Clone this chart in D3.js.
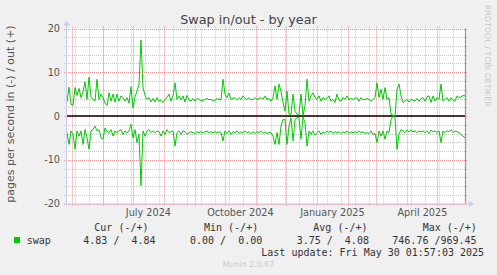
<!DOCTYPE html>
<html>
<head>
<meta charset="utf-8">
<script src="https://cdn.jsdelivr.net/npm/d3@7"></script>
<style>
    body { margin: 0; background: #f0f0f0; }
    svg { display: block; }
</style>
</head>
<body>
<div id="swap"></div>
<script>
// graph window: munin year view is the last 400 days
var graphEnd = "2025-05-30T01:57:03Z";
var graphDays = 400;

// one value every 2 days, starting here
var seriesStart = "2024-04-26T02:00:00Z";
var seriesStepDays = 2;

// pages out (+)
var swapOut = [
    3.2, 6.6, 2.7, 2.4, 6.5, 4.7, 6.3, 4.2, 5.5, 7.8,
    3.8, 8.9, 4.4, 3.8, 3.4, 8.4, 3.8, 5.0, 4.2, 3.0,
    2.4, 5.3, 3.4, 5.0, 3.2, 5.0, 3.4, 4.6, 4.2, 3.4,
    4.2, 2.9, 6.7, 1.9, 4.4, 5.7, 7.3, 17.4, 6.5, 4.7,
    3.8, 4.2, 3.2, 4.0, 3.2, 4.2, 3.4, 3.6, 3.1, 3.8,
    4.2, 5.0, 3.4, 4.6, 7.6, 3.8, 4.6, 3.7, 4.6, 3.2,
    4.7, 3.6, 3.4, 4.0, 3.4, 4.0, 3.8, 3.4, 3.6, 3.8,
    4.0, 3.7, 3.8, 3.4, 3.6, 4.0, 3.8, 3.7, 8.4, 5.0,
    4.2, 5.2, 3.8, 4.0, 4.2, 3.7, 4.2, 3.8, 4.6, 4.0,
    3.8, 4.2, 3.7, 3.8, 4.2, 3.8, 4.0, 4.2, 3.8, 4.6,
    3.8, 4.0, 3.4, 4.2, 6.9, 3.8, 7.3, 5.7, 3.1, 1.1,
    5.7, 0.4, 0.4, 5.0, 1.1, 0.4, 0.4, 5.0, 0.2, 2.3,
    8.4, 3.4, 4.6, 5.3, 4.2, 3.8, 4.6, 3.4, 4.2, 3.8,
    4.0, 4.6, 3.4, 3.8, 3.1, 5.0, 3.6, 3.4, 4.2, 3.8,
    4.6, 3.7, 4.0, 3.8, 4.0, 4.2, 3.4, 4.2, 3.7, 3.8,
    4.0, 3.8, 3.4, 3.8, 4.2, 7.6, 4.2, 6.1, 3.8, 6.5,
    3.8, 4.2, 0.4, 0.2, 0.0, 6.1, 7.3, 4.6, 3.1, 3.4,
    3.8, 3.2, 3.8, 3.6, 3.4, 4.0, 3.4, 4.0, 4.2, 3.4,
    4.4, 4.6, 3.1, 4.6, 3.4, 4.2, 3.8, 7.3, 3.4, 3.8,
    4.2, 3.4, 4.2, 3.6, 3.4, 4.6, 4.2, 4.4, 4.7, 4.6
];

// pages in (-)
var swapIn = [
    -3.8, -6.5, -3.4, -4.2, -7.6, -3.4, -4.6, -3.4, -6.5, -3.1,
    -5.0, -7.6, -3.4, -3.1, -2.3, -3.4, -3.1, -5.0, -5.3, -2.7,
    -3.6, -3.8, -3.1, -4.6, -3.4, -3.8, -3.4, -3.1, -4.2, -3.4,
    -3.8, -3.4, -1.9, -5.0, -3.1, -6.1, -4.2, -15.9, -3.4, -4.6,
    -3.4, -3.1, -3.8, -3.4, -3.8, -3.4, -3.6, -4.6, -3.4, -4.2,
    -3.1, -3.8, -3.6, -3.4, -6.9, -3.8, -3.4, -4.2, -3.4, -3.6,
    -4.2, -3.8, -3.6, -3.8, -4.0, -3.6, -3.8, -3.6, -3.8, -3.6,
    -3.4, -3.8, -3.6, -3.8, -3.6, -3.8, -3.6, -3.8, -5.7, -3.4,
    -4.0, -3.4, -4.2, -3.6, -3.8, -3.4, -4.0, -3.6, -3.8, -3.4,
    -3.8, -3.6, -4.0, -3.6, -4.0, -3.6, -3.8, -3.4, -4.0, -3.6,
    -4.0, -3.8, -3.8, -4.6, -6.5, -3.8, -6.5, -2.3, -0.8, -0.8,
    -6.5, -2.3, -0.4, -5.7, -0.8, -0.4, -0.4, -5.3, -0.2, -1.5,
    -6.9, -3.4, -4.2, -3.4, -4.4, -3.8, -3.4, -4.2, -3.6, -4.0,
    -3.4, -3.8, -3.4, -4.0, -3.6, -3.8, -3.6, -4.0, -3.6, -3.8,
    -3.4, -4.0, -3.6, -3.8, -3.6, -3.8, -3.4, -3.8, -3.6, -4.0,
    -3.8, -4.0, -3.4, -4.2, -4.0, -6.1, -3.4, -4.6, -3.4, -5.3,
    -3.4, -3.8, -0.8, 0.0, -0.4, -7.6, -4.2, -3.1, -3.4, -3.8,
    -3.2, -3.6, -3.2, -3.6, -3.4, -3.8, -3.4, -3.6, -3.4, -3.8,
    -3.4, -4.0, -3.2, -3.6, -3.4, -3.8, -3.4, -6.1, -3.4, -3.8,
    -3.4, -3.6, -3.1, -3.8, -3.4, -3.6, -3.8, -4.2, -4.6, -5.0
];

var yMajor = [-20, -10, 0, 10, 20];
var xLabels = ["July 2024", "October 2024", "January 2025", "April 2025"];
var xLabelDates = ["2024-07-16T12:00:00Z", "2024-10-16T12:00:00Z", "2025-01-16T12:00:00Z", "2025-04-16T12:00:00Z"];

var legendHeads = ["Cur (-/+)", "Min (-/+)", "Avg (-/+)", "Max (-/+)"];
var legendValues = ["4.83 /  4.84", "0.00 /  0.00", "3.75 /  4.08", "746.76 /969.45"];
var legendName = "swap";
var lastUpdate = "Last update: Fri May 30 01:57:03 2025";

var width = 497,
    height = 275,
    plot = { left: 66, right: 466, top: 28.5, bottom: 203.5 };

var end = new Date(graphEnd),
    start = d3.utcDay.offset(end, -graphDays);

var x = d3.scaleUtc()
    .domain([start, end])
    .range([plot.left, plot.right]);

var y = d3.scaleLinear()
    .domain([-20, 20])
    .range([plot.bottom, plot.top]);

var first = new Date(seriesStart);
var outData = swapOut.map(function(v, i) {
    return { date: d3.utcDay.offset(first, i * seriesStepDays), value: v };
});
var inData = swapIn.map(function(v, i) {
    return { date: d3.utcDay.offset(first, i * seriesStepDays), value: v };
});

var svg = d3.select("#swap")
    .append("svg")
    .attr("width", width)
    .attr("height", height)
    .style("font-family", "'DejaVu Sans', sans-serif");

svg.append("rect")
    .attr("width", width)
    .attr("height", height)
    .attr("fill", "#f0f0f0");

svg.append("rect")
    .attr("x", plot.left)
    .attr("y", plot.top)
    .attr("width", plot.right - plot.left)
    .attr("height", plot.bottom - plot.top)
    .attr("fill", "#ffffff");

// minor grid
var minorX = d3.utcDay.range(new Date("2024-05-04T00:00:00Z"), end, 14);
svg.append("g").selectAll("line")
    .data(minorX)
    .enter().append("line")
    .attr("x1", function(d) { return Math.round(x(d)) + 0.5; })
    .attr("x2", function(d) { return Math.round(x(d)) + 0.5; })
    .attr("y1", plot.top - 2)
    .attr("y2", plot.bottom + 2)
    .attr("stroke", "#c8c8c8")
    .attr("stroke-dasharray", "1,1");

var minorY = d3.range(-20, 21, 2).filter(function(v) { return v % 10 !== 0; });
svg.append("g").selectAll("line")
    .data(minorY)
    .enter().append("line")
    .attr("x1", plot.left - 2)
    .attr("x2", plot.right + 2)
    .attr("y1", function(d) { return Math.round(y(d)) + 0.5; })
    .attr("y2", function(d) { return Math.round(y(d)) + 0.5; })
    .attr("stroke", "#c8c8c8")
    .attr("stroke-dasharray", "1,1");

// major grid
var months = d3.utcMonth.range(start, end);
svg.append("g").selectAll("line")
    .data(months)
    .enter().append("line")
    .attr("x1", function(d) { return Math.round(x(d)) + 0.5; })
    .attr("x2", function(d) { return Math.round(x(d)) + 0.5; })
    .attr("y1", plot.top - 2)
    .attr("y2", plot.bottom + 2)
    .attr("stroke", "#f09090")
    .attr("stroke-dasharray", "1,1");

svg.append("g").selectAll("line")
    .data(yMajor)
    .enter().append("line")
    .attr("x1", plot.left - 2)
    .attr("x2", plot.right + 2)
    .attr("y1", function(d) { return Math.round(y(d)) + 0.5; })
    .attr("y2", function(d) { return Math.round(y(d)) + 0.5; })
    .attr("stroke", "#f09090")
    .attr("stroke-dasharray", "1,1");

// y tick labels
svg.append("g").selectAll("text")
    .data(yMajor)
    .enter().append("text")
    .attr("x", 60)
    .attr("y", function(d) { return y(d) + 3.5; })
    .attr("text-anchor", "end")
    .attr("font-size", "9.7px")
    .attr("fill", "#555")
    .text(function(d) { return d; });

// x labels
svg.append("g").selectAll("text")
    .data(xLabels)
    .enter().append("text")
    .attr("x", function(d, i) { return x(new Date(xLabelDates[i])); })
    .attr("y", 216)
    .attr("text-anchor", "middle")
    .attr("font-size", "9.7px")
    .attr("fill", "#555")
    .text(function(d) { return d; });

// zero line
svg.append("line")
    .attr("x1", plot.left)
    .attr("x2", plot.right)
    .attr("y1", y(0))
    .attr("y2", y(0))
    .attr("stroke", "#000")
    .attr("stroke-width", 1.5);

var line = d3.line()
    .x(function(d) { return x(d.date); })
    .y(function(d) { return y(d.value); });

svg.append("path")
    .datum(outData)
    .attr("d", line)
    .attr("fill", "none")
    .attr("stroke", "#00cc00")
    .attr("stroke-width", 1);

svg.append("path")
    .datum(inData)
    .attr("d", line)
    .attr("fill", "none")
    .attr("stroke", "#00cc00")
    .attr("stroke-width", 1);

// "now" line at the right edge
svg.append("line")
    .attr("x1", plot.right - 0.5)
    .attr("x2", plot.right - 0.5)
    .attr("y1", plot.top)
    .attr("y2", plot.bottom)
    .attr("stroke", "#9a9a9a")
    .attr("stroke-width", 1.3);

// axes with arrows
var axisColor = "#c4cbf5";
svg.append("line")
    .attr("x1", plot.left + 0.5)
    .attr("x2", plot.left + 0.5)
    .attr("y1", plot.bottom + 2)
    .attr("y2", plot.top - 4)
    .attr("stroke", axisColor);
svg.append("path")
    .attr("d", "M" + (plot.left - 2.5) + "," + (plot.top - 3) + "L" + (plot.left + 0.5) + "," + (plot.top - 8) + "L" + (plot.left + 3.5) + "," + (plot.top - 3) + "Z")
    .attr("fill", axisColor);

svg.append("line")
    .attr("x1", plot.left - 2)
    .attr("x2", plot.right + 4)
    .attr("y1", plot.bottom + 0.5)
    .attr("y2", plot.bottom + 0.5)
    .attr("stroke", axisColor);
svg.append("path")
    .attr("d", "M" + (plot.right + 3) + "," + (plot.bottom - 2.5) + "L" + (plot.right + 8) + "," + (plot.bottom + 0.5) + "L" + (plot.right + 3) + "," + (plot.bottom + 3.5) + "Z")
    .attr("fill", axisColor);

// title
svg.append("text")
    .attr("x", 248.5)
    .attr("y", 23.5)
    .attr("text-anchor", "middle")
    .attr("font-size", "12.8px")
    .attr("fill", "#444")
    .text("Swap in/out - by year");

svg.append("text")
    .attr("transform", "translate(14,114) rotate(-90)")
    .attr("text-anchor", "middle")
    .attr("font-size", "11px")
    .attr("fill", "#555")
    .text("pages per second in (-) / out (+)");

svg.append("text")
    .attr("transform", "translate(485,5) rotate(90)")
    .attr("font-size", "7.9px")
    .attr("fill", "#c8c8c8")
    .text("RRDTOOL / TOBI OETIKER");

// legend
var mono = "'DejaVu Sans Mono', monospace";
var headX = [94.3, 204, 313.3, 422.7];
var valueX = [83.3, 190, 296.7, 392.3];

svg.append("g").selectAll("text")
    .data(legendHeads)
    .enter().append("text")
    .attr("x", function(d, i) { return headX[i]; })
    .attr("y", 231)
    .style("font-family", mono)
    .style("white-space", "pre")
    .attr("font-size", "10px")
    .attr("fill", "#333")
    .text(function(d) { return d; });

svg.append("rect")
    .attr("x", 14)
    .attr("y", 237)
    .attr("width", 6)
    .attr("height", 6)
    .attr("fill", "#00cc00");

svg.append("text")
    .attr("x", 26.7)
    .attr("y", 243.5)
    .style("font-family", mono)
    .attr("font-size", "10px")
    .attr("fill", "#333")
    .text(legendName);

svg.append("g").selectAll("text")
    .data(legendValues)
    .enter().append("text")
    .attr("x", function(d, i) { return valueX[i]; })
    .attr("y", 243.5)
    .style("font-family", mono)
    .style("white-space", "pre")
    .attr("font-size", "10px")
    .attr("fill", "#333")
    .text(function(d) { return d; });

svg.append("text")
    .attr("x", 261.3)
    .attr("y", 255.5)
    .style("font-family", mono)
    .style("white-space", "pre")
    .attr("font-size", "10px")
    .attr("fill", "#333")
    .text(lastUpdate);

svg.append("text")
    .attr("x", 248.5)
    .attr("y", 266.5)
    .attr("text-anchor", "middle")
    .attr("font-size", "7.9px")
    .attr("fill", "#c8c8c8")
    .text("Munin 2.0.67");
</script>
</body>
</html>
